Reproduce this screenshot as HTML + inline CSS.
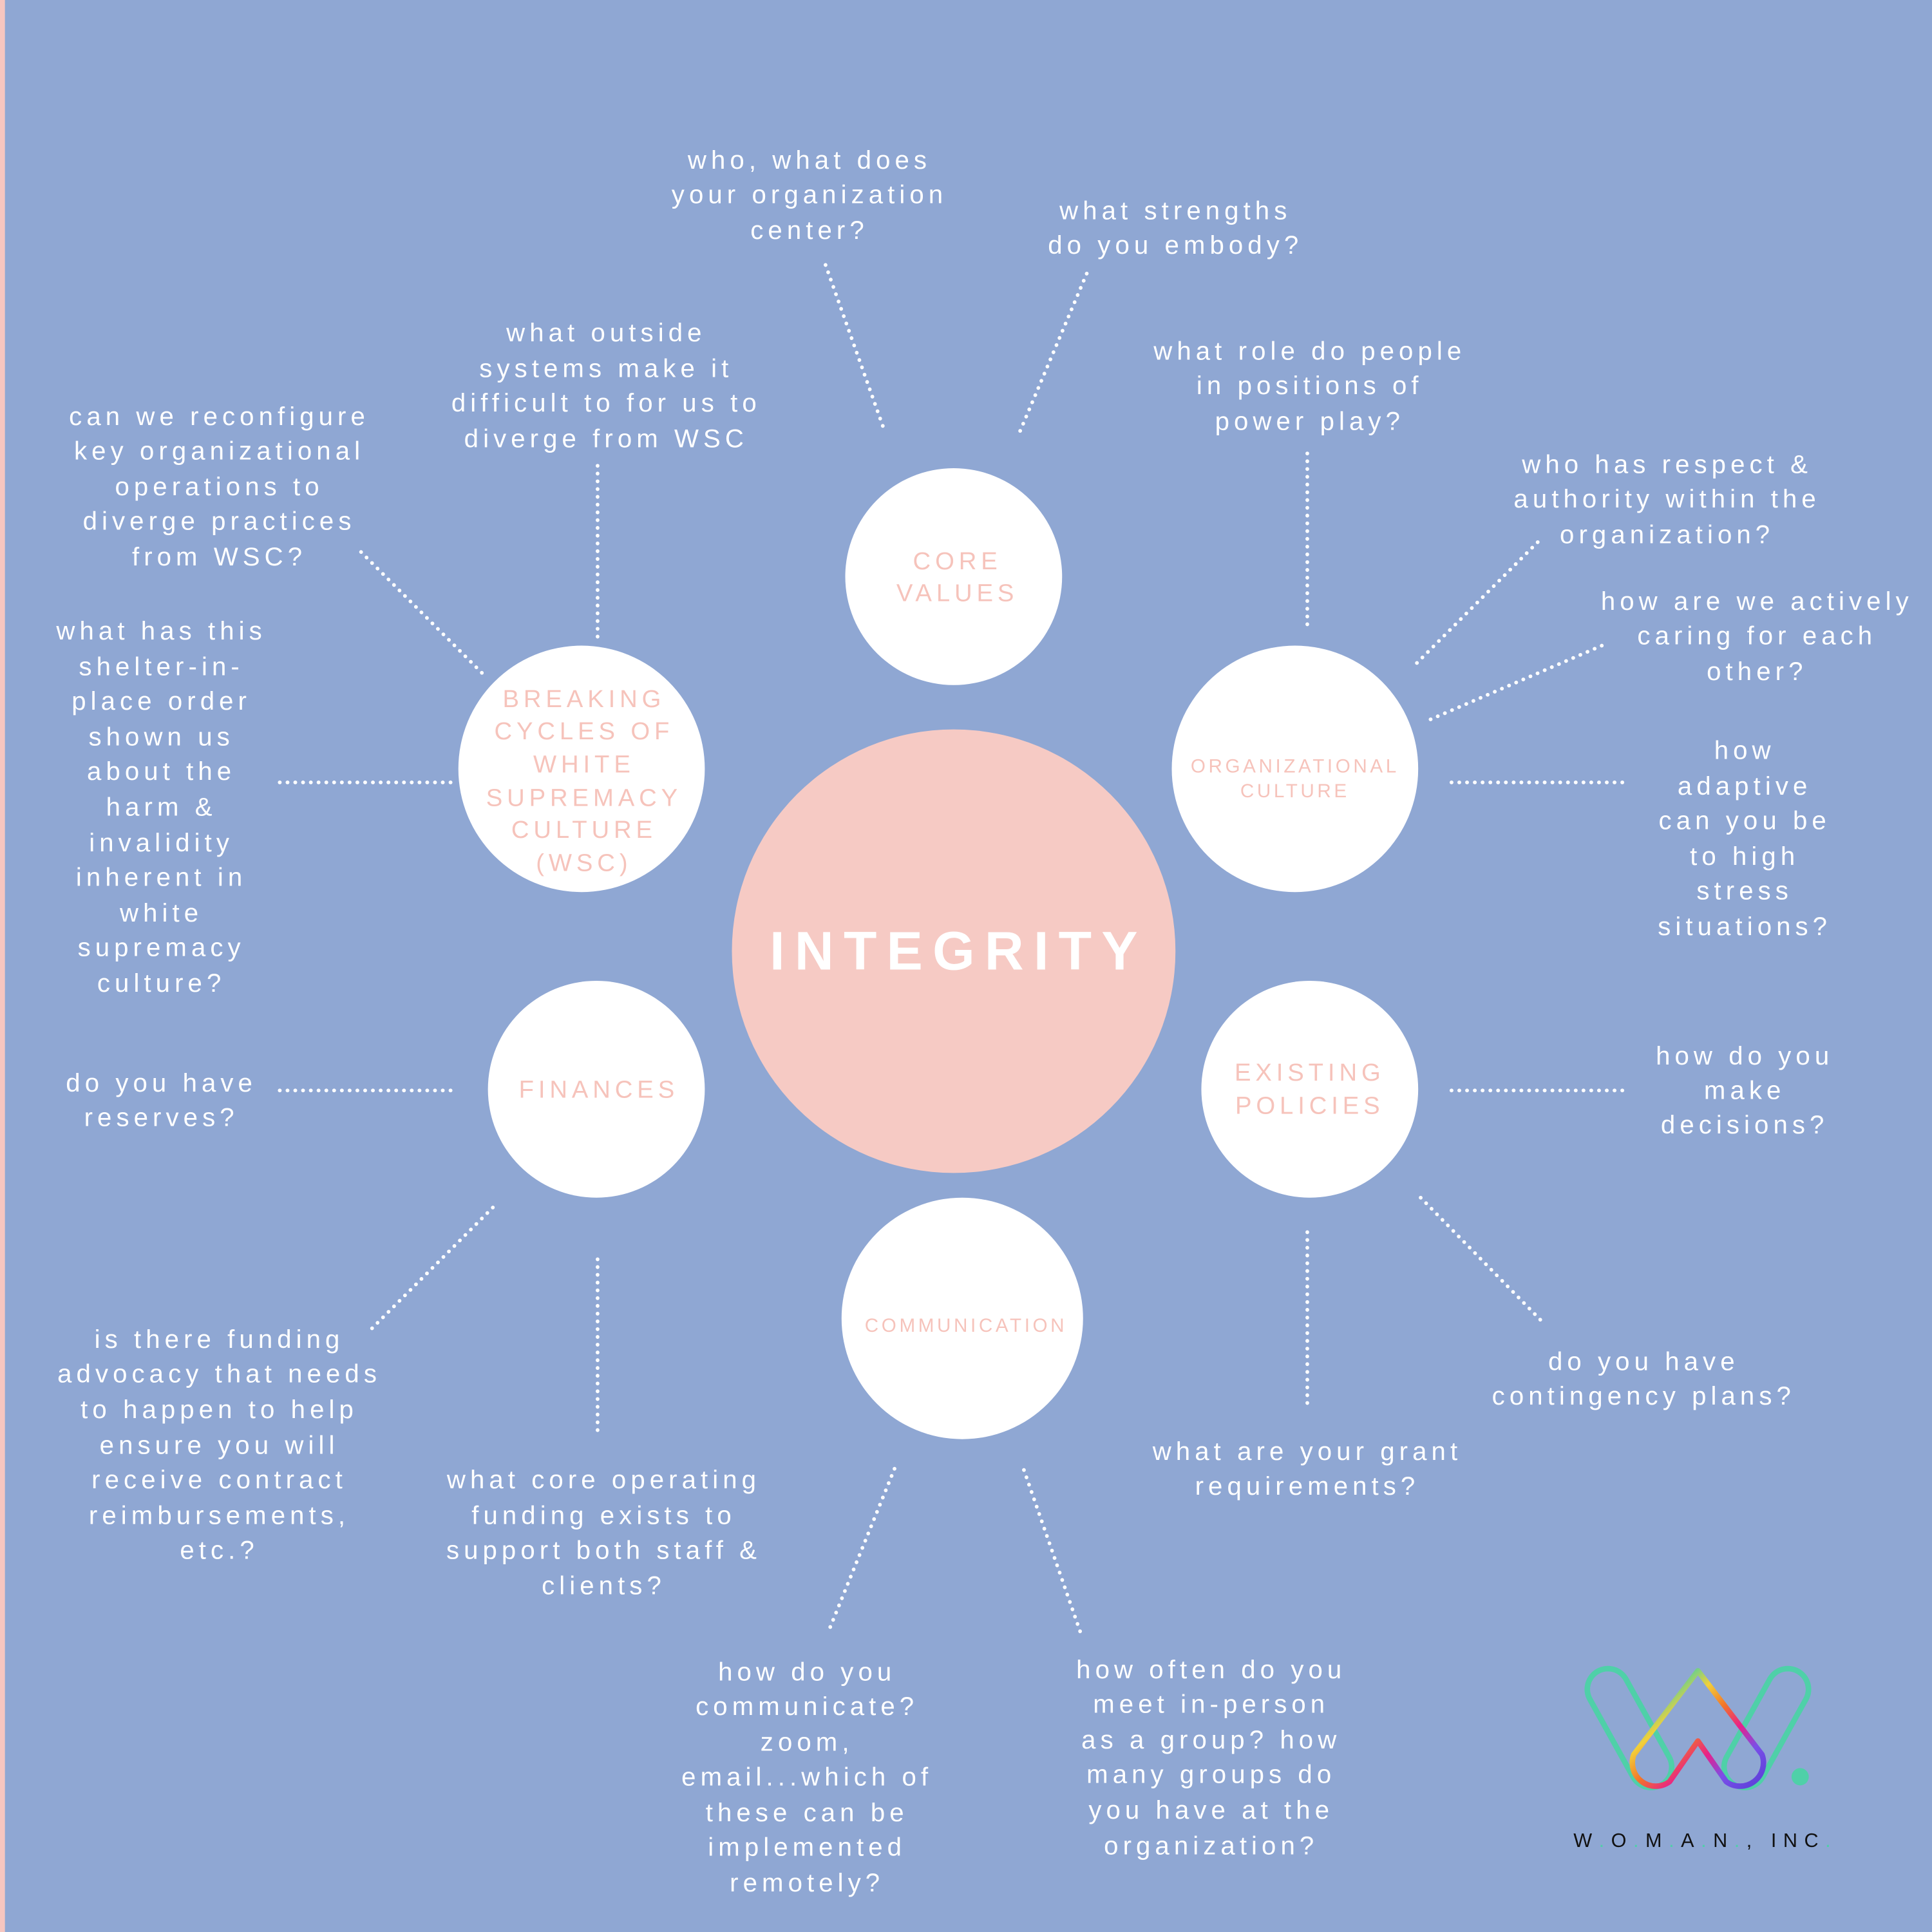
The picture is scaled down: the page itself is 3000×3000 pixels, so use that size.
<!DOCTYPE html>
<html><head><meta charset="utf-8"><style>
html,body{margin:0;padding:0;background:#8fa7d3;}
svg{display:block}
.q{font-family:"Liberation Sans",sans-serif;font-size:21px;fill:#fff;letter-spacing:3.7px;text-anchor:middle}
.c{font-family:"Liberation Sans",sans-serif;font-size:20px;fill:#f6c3bb;letter-spacing:3.6px;text-anchor:middle}
.cs{font-family:"Liberation Sans",sans-serif;font-size:15.5px;fill:#f6c3bb;letter-spacing:2.4px;text-anchor:middle}
.d{stroke:#fff;stroke-width:3;stroke-dasharray:0.1 6.2;stroke-linecap:round;fill:none}
</style></head><body>
<svg width="3000" height="3000" viewBox="0 0 1568 1568" xmlns="http://www.w3.org/2000/svg">
<defs>
<linearGradient id="rb" x1="0" y1="0" x2="1" y2="1" spreadMethod="repeat">
<stop offset="0" stop-color="#5a3fd8"/><stop offset="0.2" stop-color="#4ad0a0"/><stop offset="0.35" stop-color="#f2d03a"/><stop offset="0.5" stop-color="#f2742a"/><stop offset="0.65" stop-color="#e8208a"/><stop offset="0.8" stop-color="#7a4fe8"/><stop offset="1" stop-color="#5a3fd8"/>
</linearGradient>
</defs>
<rect width="1568" height="1568" fill="#8fa7d3"/>
<rect width="4" height="1568" fill="#f6c6c0"/>
<g class="d">
<line x1="670" y1="215" x2="718" y2="350"/><line x1="882" y1="222" x2="827" y2="352"/>
<line x1="485" y1="378" x2="485" y2="520"/><line x1="293" y1="448" x2="393" y2="548"/>
<line x1="227" y1="635" x2="368" y2="635"/><line x1="1061" y1="368" x2="1061" y2="510"/>
<line x1="1248" y1="440" x2="1148" y2="540"/><line x1="1300" y1="524" x2="1156" y2="586"/>
<line x1="1178" y1="635" x2="1320" y2="635"/><line x1="227" y1="885" x2="370" y2="885"/>
<line x1="1178" y1="885" x2="1320" y2="885"/><line x1="400" y1="980" x2="300" y2="1080"/>
<line x1="485" y1="1022" x2="485" y2="1163"/><line x1="1061" y1="1000" x2="1061" y2="1143"/>
<line x1="1153" y1="972" x2="1252" y2="1073"/><line x1="726" y1="1192" x2="672" y2="1325"/>
<line x1="831" y1="1193" x2="878" y2="1328"/>
</g>
<circle cx="774" cy="772" r="180" fill="#f6cac4"/>
<text x="778" y="787" text-anchor="middle" font-family="Liberation Sans,sans-serif" font-weight="bold" font-size="44" letter-spacing="8" fill="#fff">INTEGRITY</text>
<g fill="#fff">
<circle cx="774" cy="468" r="88"/><circle cx="472" cy="624" r="100"/><circle cx="1051" cy="624" r="100"/>
<circle cx="484" cy="884" r="88"/><circle cx="1063" cy="884" r="88"/><circle cx="781" cy="1070" r="98"/>
</g>
<text class="c" x="777" y="462">CORE</text><text class="c" x="777" y="488">VALUES</text>
<text class="c" x="474" y="574">BREAKING</text><text class="c" x="474" y="600">CYCLES OF</text><text class="c" x="474" y="627">WHITE</text><text class="c" x="474" y="654">SUPREMACY</text><text class="c" x="474" y="680">CULTURE</text><text class="c" x="474" y="707">(WSC)</text>
<text class="cs" x="1051" y="627">ORGANIZATIONAL</text><text class="cs" x="1051" y="647">CULTURE</text>
<text class="c" x="486" y="891">FINANCES</text>
<text class="c" x="1063" y="877">EXISTING</text><text class="c" x="1063" y="904">POLICIES</text>
<text class="cs" x="784" y="1081">COMMUNICATION</text>
<g class="q">
<text x="657" y="137">who, what does</text><text x="657" y="165">your organization</text><text x="657" y="194">center?</text>
<text x="954" y="178">what strengths</text><text x="954" y="206">do you embody?</text>
<text x="492" y="277">what outside</text><text x="492" y="306">systems make it</text><text x="492" y="334">difficult to for us to</text><text x="492" y="363">diverge from WSC</text>
<text x="178" y="345">can we reconfigure</text><text x="178" y="373">key organizational</text><text x="178" y="402">operations to</text><text x="178" y="430">diverge practices</text><text x="178" y="459">from WSC?</text>
<text x="1063" y="292">what role do people</text><text x="1063" y="320">in positions of</text><text x="1063" y="349">power play?</text>
<text x="1353" y="384">who has respect &amp;</text><text x="1353" y="412">authority within the</text><text x="1353" y="441">organization?</text>
<text x="1426" y="495">how are we actively</text><text x="1426" y="523">caring for each</text><text x="1426" y="552">other?</text>
<text x="1416" y="616">how</text><text x="1416" y="645">adaptive</text><text x="1416" y="673">can you be</text><text x="1416" y="702">to high</text><text x="1416" y="730">stress</text><text x="1416" y="759">situations?</text>
<text x="131" y="519">what has this</text><text x="131" y="548">shelter-in-</text><text x="131" y="576">place order</text><text x="131" y="605">shown us</text><text x="131" y="633">about the</text><text x="131" y="662">harm &amp;</text><text x="131" y="691">invalidity</text><text x="131" y="719">inherent in</text><text x="131" y="748">white</text><text x="131" y="776">supremacy</text><text x="131" y="805">culture?</text>
<text x="131" y="886">do you have</text><text x="131" y="914">reserves?</text>
<text x="1416" y="864">how do you</text><text x="1416" y="892">make</text><text x="1416" y="920">decisions?</text>
<text x="178" y="1094">is there funding</text><text x="178" y="1122">advocacy that needs</text><text x="178" y="1151">to happen to help</text><text x="178" y="1180">ensure you will</text><text x="178" y="1208">receive contract</text><text x="178" y="1237">reimbursements,</text><text x="178" y="1265">etc.?</text>
<text x="490" y="1208">what core operating</text><text x="490" y="1237">funding exists to</text><text x="490" y="1265">support both staff &amp;</text><text x="490" y="1294">clients?</text>
<text x="1334" y="1112">do you have</text><text x="1334" y="1140">contingency plans?</text>
<text x="1061" y="1185">what are your grant</text><text x="1061" y="1213">requirements?</text>
<text x="655" y="1364">how do you</text><text x="655" y="1392">communicate?</text><text x="655" y="1421">zoom,</text><text x="655" y="1449">email...which of</text><text x="655" y="1478">these can be</text><text x="655" y="1506">implemented</text><text x="655" y="1535">remotely?</text>
<text x="983" y="1362">how often do you</text><text x="983" y="1390">meet in-person</text><text x="983" y="1419">as a group? how</text><text x="983" y="1447">many groups do</text><text x="983" y="1476">you have at the</text><text x="983" y="1505">organization?</text>
</g>
<g stroke-linecap="round" fill="none">
<line x1="1305" y1="1371" x2="1340" y2="1434" stroke="#4fd0a8" stroke-width="38"/>
<line x1="1305" y1="1371" x2="1340" y2="1434" stroke="#8fa7d3" stroke-width="29"/>
<line x1="1451" y1="1371" x2="1416" y2="1434" stroke="#4fd0a8" stroke-width="38"/>
<line x1="1451" y1="1371" x2="1416" y2="1434" stroke="#8fa7d3" stroke-width="29"/>
<path d="M1378 1356 L1326 1424 A19 19 0 0 0 1355 1446 L1378 1413 L1401 1446 A19 19 0 0 0 1430 1424 Z" stroke="url(#rb)" stroke-width="4.5" stroke-linejoin="round"/>
</g>
<circle cx="1461" cy="1442" r="7" fill="#4fd0a8"/>
<text x="1277" y="1499" font-family="Liberation Sans,sans-serif" font-size="16" letter-spacing="5.5" fill="#111">W<tspan fill="#4fd0a8">.</tspan>O<tspan fill="#4fd0a8">.</tspan>M<tspan fill="#4fd0a8">.</tspan>A<tspan fill="#4fd0a8">.</tspan>N<tspan fill="#4fd0a8">.</tspan>, INC<tspan fill="#4fd0a8">.</tspan></text>
</svg>
</body></html>
